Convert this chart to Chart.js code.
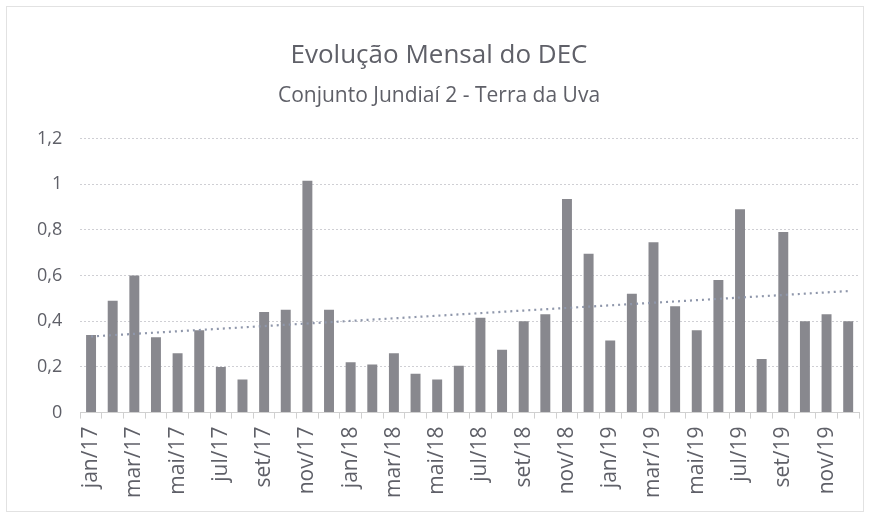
<!DOCTYPE html>
<html>
<head>
<meta charset="utf-8">
<script src="https://cdn.jsdelivr.net/npm/chart.js@4/dist/chart.umd.min.js"></script>
<style>
  html, body { margin: 0; padding: 0; background: #fff; }
  #wrap { position: absolute; left: 6px; top: 6px; width: 856px; height: 504px; border: 1px solid #e2e2e2; }
</style>
</head>
<body>
<div id="wrap"><canvas id="myChart"></canvas></div>
<script>
// months jan/17 .. dez/19
const months = ['jan/17','fev/17','mar/17','abr/17','mai/17','jun/17','jul/17','ago/17','set/17','out/17','nov/17','dez/17',
                'jan/18','fev/18','mar/18','abr/18','mai/18','jun/18','jul/18','ago/18','set/18','out/18','nov/18','dez/18',
                'jan/19','fev/19','mar/19','abr/19','mai/19','jun/19','jul/19','ago/19','set/19','out/19','nov/19','dez/19'];
const dec = [0.34, 0.49, 0.60, 0.33, 0.26, 0.36, 0.20, 0.145, 0.44, 0.45, 1.015, 0.45,
             0.22, 0.21, 0.26, 0.17, 0.145, 0.205, 0.415, 0.275, 0.40, 0.43, 0.935, 0.695,
             0.315, 0.52, 0.745, 0.465, 0.36, 0.58, 0.89, 0.235, 0.79, 0.40, 0.43, 0.40];
const yTicks = [0, 0.2, 0.4, 0.6, 0.8, 1, 1.2];

// linear trend line (least squares over the series, like Excel)
const n = dec.length;
let sx = 0, sy = 0, sxy = 0, sxx = 0;
dec.forEach((v, i) => { sx += i; sy += v; sxy += i * v; sxx += i * i; });
const slope = (n * sxy - sx * sy) / (n * sxx - sx * sx);
const icpt = (sy - slope * sx) / n;
const trend = dec.map((v, i) => icpt + slope * i);

const txt = '#5f6068';
const ctx = document.getElementById('myChart');
new Chart(ctx, {
    type: 'bar',
    data: {
        labels: months,
        datasets: [{
            label: 'DEC',
            data: dec,
            backgroundColor: '#88888e',
            barPercentage: 0.46,
            categoryPercentage: 1,
            order: 2
        },
        {
            type: 'line',
            label: 'Linear (DEC)',
            data: trend,
            borderColor: '#8f97ab',
            borderWidth: 2.2,
            borderDash: [2, 4],
            pointRadius: 0,
            fill: false,
            order: 1
        }]
    },
    options: {
        responsive: true,
        maintainAspectRatio: false,
        animation: false,
        layout: { padding: { left: 12, right: 4, top: 29, bottom: 5 } },
        plugins: {
            legend: { display: false },
            tooltip: { enabled: false },
            title: {
                display: true,
                text: 'Evolução Mensal do DEC',
                color: txt,
                font: { family: 'Open Sans', size: 26, weight: 'normal' },
                padding: { top: 4, bottom: 12 }
            },
            subtitle: {
                display: true,
                text: 'Conjunto Jundiaí 2 - Terra da Uva',
                color: txt,
                font: { family: 'Open Sans', size: 21 },
                padding: { top: 0, bottom: 30 }
            }
        },
        scales: {
            x: {
                afterFit: s => { s.paddingRight = 0; },
                grid: { display: true, drawOnChartArea: false, offset: true, color: '#d0d0d0', tickLength: 6 },
                border: { color: '#d0d0d0' },
                ticks: {
                    autoSkip: false,
                    maxRotation: 90,
                    minRotation: 90,
                    color: txt,
                    font: { family: 'Open Sans', size: 21 },
                    padding: 8,
                    callback: function(val, i) { return i % 2 === 0 ? months[i] : ''; }
                }
            },
            y: {
                min: 0,
                max: 1.2,
                afterBuildTicks: axis => { axis.ticks = yTicks.map(v => ({ value: v })); },
                grid: { color: '#cfcfd4', lineWidth: 1, drawTicks: false },
                border: { display: false, dash: [2, 2] },
                ticks: {
                    color: txt,
                    font: { family: 'Open Sans', size: 18 },
                    padding: 18,
                    callback: v => String(Math.round(v * 10) / 10).replace('.', ',')
                }
            }
        }
    }
});
</script>
</body>
</html>
